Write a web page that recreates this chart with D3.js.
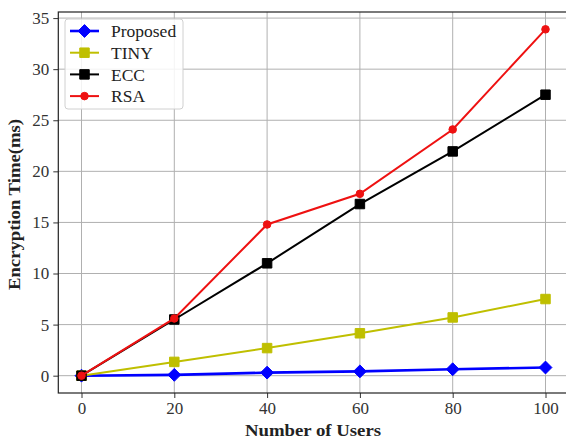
<!DOCTYPE html>
<html>
<head>
<meta charset="utf-8">
<script src="https://cdn.jsdelivr.net/npm/d3@7"></script>
<style>
  html, body { margin: 0; padding: 0; background: #fff; }
  svg { display: block; }
  text { font-family: "Liberation Serif", "DejaVu Serif", serif; }
</style>
</head>
<body>
<svg id="chart" width="566" height="440"></svg>
<script>
// Encryption time per number of users for each scheme
const users = [0, 20, 40, 60, 80, 100];
const proposed = [0, 0.08, 0.3, 0.42, 0.63, 0.8];
const tiny = [0, 1.35, 2.7, 4.15, 5.7, 7.5];
const ecc = [0, 5.5, 11.0, 16.8, 21.95, 27.5];
const rsa = [0, 5.6, 14.8, 17.8, 24.1, 33.9];
const xTicks = [0, 20, 40, 60, 80, 100];
const yTicks = [0, 5, 10, 15, 20, 25, 30, 35];

const series = [
  { name: "Proposed", values: proposed, color: "#0000ff", marker: "diamond", width: 2.6 },
  { name: "TINY", values: tiny, color: "#bfbf00", marker: "square", width: 2 },
  { name: "ECC", values: ecc, color: "#000000", marker: "square", width: 2 },
  { name: "RSA", values: rsa, color: "#ee1111", marker: "circle", width: 2 }
];

const svg = d3.select("#chart");
const plotLeft = 58.3, plotRight = 568.7, plotTop = 12, plotBottom = 393;

const x = d3.scaleLinear().domain([-5, 105]).range([plotLeft, plotRight]);
const yMax = d3.max(rsa);
const pad = yMax * 0.05;
const y = d3.scaleLinear().domain([-pad, yMax + pad]).range([plotBottom, plotTop]);

// grid
const grid = svg.append("g").attr("stroke", "#b0b0b0").attr("stroke-width", 1);
grid.selectAll("line.vx").data(xTicks).join("line")
  .attr("x1", d => x(d)).attr("x2", d => x(d)).attr("y1", plotTop).attr("y2", plotBottom);
grid.selectAll("line.hy").data(yTicks).join("line")
  .attr("y1", d => y(d)).attr("y2", d => y(d)).attr("x1", plotLeft).attr("x2", plotRight);

// axes
const xAxis = d3.axisBottom(x).tickValues(xTicks).tickSizeInner(5).tickSizeOuter(0).tickPadding(4);
const yAxis = d3.axisLeft(y).tickValues(yTicks).tickSizeInner(5).tickSizeOuter(0).tickPadding(4);

const gx = svg.append("g").attr("transform", `translate(0,${plotBottom})`).call(xAxis);
const gy = svg.append("g").attr("transform", `translate(${plotLeft},0)`).call(yAxis);
[gx, gy].forEach(g => {
  g.select(".domain").remove();
  g.selectAll(".tick line").attr("stroke", "#333").attr("stroke-width", 1);
  g.selectAll(".tick text").attr("fill", "#333").style("font-size", "17px")
    .style("font-family", "'Liberation Serif', serif");
});

// frame
svg.append("rect").attr("x", plotLeft).attr("y", plotTop)
  .attr("width", plotRight - plotLeft).attr("height", plotBottom - plotTop)
  .attr("fill", "none").attr("stroke", "#222").attr("stroke-width", 1.2);

// lines and markers
const line = d3.line().x((d, i) => x(users[i])).y(d => y(d));
const symbolFor = {
  diamond: d3.symbol().type(d3.symbolDiamond2).size(105),
  square: d3.symbol().type(d3.symbolSquare).size(90),
  circle: d3.symbol().type(d3.symbolCircle).size(45)
};

series.forEach(s => {
  const g = svg.append("g");
  g.append("path").datum(s.values).attr("d", line)
    .attr("fill", "none").attr("stroke", s.color).attr("stroke-width", s.width);
  g.selectAll("path.m").data(s.values).join("path").attr("class", "m")
    .attr("transform", (d, i) => `translate(${x(users[i])},${y(d)})`)
    .attr("d", symbolFor[s.marker])
    .attr("fill", s.color).attr("stroke", s.color).attr("stroke-width", 1);
});

// legend
const lg = svg.append("g");
lg.append("rect").attr("x", 65).attr("y", 19).attr("width", 118).attr("height", 90)
  .attr("rx", 3).attr("fill", "#fff").attr("fill-opacity", 0.85)
  .attr("stroke", "#d0d0d0").attr("stroke-width", 1);
series.forEach((s, i) => {
  const cy = 31 + i * 21.7;
  lg.append("line").attr("x1", 70).attr("x2", 99).attr("y1", cy).attr("y2", cy)
    .attr("stroke", s.color).attr("stroke-width", s.width);
  lg.append("path").attr("transform", `translate(84.5,${cy})`).attr("d", symbolFor[s.marker])
    .attr("fill", s.color).attr("stroke", s.color).attr("stroke-width", 1);
  lg.append("text").attr("x", 111).attr("y", cy).attr("dy", "0.35em")
    .style("font-size", "17.5px").attr("fill", "#222").text(s.name);
});

// axis titles
svg.append("text").attr("x", 313).attr("y", 436)
  .attr("text-anchor", "middle").style("font-size", "17px").style("font-weight", "bold")
  .attr("textLength", 136).attr("lengthAdjust", "spacingAndGlyphs")
  .attr("fill", "#222").text("Number of Users");
svg.append("text").attr("transform", `translate(20,204.5) rotate(-90)`)
  .attr("text-anchor", "middle").style("font-size", "17px").style("font-weight", "bold")
  .attr("textLength", 171).attr("lengthAdjust", "spacingAndGlyphs")
  .attr("fill", "#222").text("Encryption Time(ms)");
</script>
</body>
</html>
